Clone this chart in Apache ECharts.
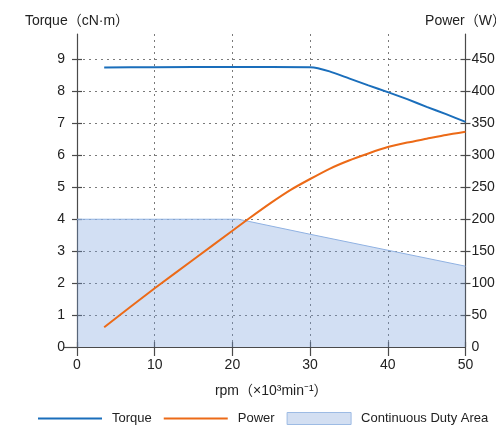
<!DOCTYPE html>
<html lang="en">
<head>
  <meta charset="UTF-8">
  <title>Torque / Power</title>
  <script src="https://cdn.jsdelivr.net/npm/echarts@6/dist/echarts.min.js"></script>
  <style>
    html, body { margin: 0; padding: 0; background: #fff; }
    #main { width: 496px; height: 426px; }
  </style>
</head>
<body>
<div id="main"></div>
<script>
  // rpm (x10^3 min^-1) vs torque (cN·m)
  var torquePts = [[3.5, 8.75], [10, 8.76], [20, 8.77], [30, 8.76], [31, 8.73], [32.5, 8.63],
    [35, 8.41], [37.5, 8.19], [40, 7.98], [42.5, 7.76], [45, 7.52], [47.5, 7.29], [50, 7.05]];
  // rpm vs power (W)
  var powerPts = [[3.5, 31], [10, 92], [15, 137], [20, 182], [22, 200], [25, 226], [27.5, 246],
    [30, 263], [32.5, 279], [35, 292], [37.5, 303], [40, 313], [42.5, 320], [45, 326], [47.5, 332], [50, 337]];
  // continuous duty area limit (cN·m)
  var dutyPts = [[0, 4], [20.8, 4], [30, 3.53], [40, 3.03], [50, 2.53]];

  var xTicks = [0, 10, 20, 30, 40, 50];
  var torqueTicks = [1, 2, 3, 4, 5, 6, 7, 8, 9];
  var torqueLabels = [0, 1, 2, 3, 4, 5, 6, 7, 8, 9];
  var powerTicks = [50, 100, 150, 200, 250, 300, 350, 400, 450];
  var powerLabels = [0, 50, 100, 150, 200, 250, 300, 350, 400, 450];

  var FONT = '"Liberation Sans", "Noto Sans CJK JP", sans-serif';
  var AXIS = '#4a4a4a';
  var TXT = '#222';
  var grid_line = { type: [2, 4], color: '#7a7a7a', width: 1 };
  var LINE_ICON = 'path://M0,0H64V2H0Z';

  var chart = echarts.init(document.getElementById('main'));
  chart.setOption({
    animation: false,
    textStyle: { fontFamily: FONT },
    grid: { left: 77, right: 30.5, top: 34, bottom: 79, containLabel: false, outerBoundsMode: 'none' },
    legend: {
      left: 38, right: 0, top: 412, padding: 0,
      itemWidth: 64, itemHeight: 12, itemGap: 12,
      textStyle: { fontSize: 13, color: TXT, fontFamily: FONT, padding: [0, 0, 0, 5] },
      data: [
        { name: 'Torque', icon: LINE_ICON },
        { name: 'Power', icon: LINE_ICON },
        { name: 'Continuous Duty Area', icon: 'rect',
          itemStyle: { color: '#d3dff2', borderColor: '#9dbbe4', borderWidth: 1 } }
      ]
    },
    xAxis: [
      {
        type: 'value', position: 'bottom', min: 0, max: 50,
        name: 'rpm（×10³min⁻¹）', nameLocation: 'middle', nameGap: 37,
        nameTextStyle: { fontSize: 14, color: TXT },
        axisLine: { onZero: false, lineStyle: { color: AXIS, width: 1.2 } },
        axisTick: { customValues: xTicks, length: 9, lineStyle: { color: AXIS, width: 1.2 } },
        axisLabel: { customValues: xTicks, fontSize: 14, color: TXT, margin: 11 },
        splitLine: { show: true, lineStyle: grid_line }
      },
      {
        type: 'value', position: 'bottom', min: 0, max: 50,
        axisLine: { show: false, onZero: false },
        axisTick: { customValues: xTicks, inside: true, length: 5, lineStyle: { color: AXIS, width: 1.2 } },
        axisLabel: { show: false },
        splitLine: { show: false }
      }
    ],
    yAxis: [
      {
        type: 'value', position: 'left', min: 0, max: 9.8,
        name: 'Torque（cN·m）', nameLocation: 'end', nameGap: 6,
        nameTextStyle: { fontSize: 14, color: TXT },
        axisLine: { show: true, onZero: false, lineStyle: { color: AXIS, width: 1.2 } },
        axisTick: { show: true, customValues: torqueTicks, length: 5, lineStyle: { color: AXIS, width: 1.2 } },
        axisLabel: { customValues: torqueLabels, fontSize: 14, color: TXT, margin: 12 },
        splitLine: { show: true, lineStyle: grid_line }
      },
      {
        type: 'value', position: 'right', min: 0, max: 490,
        name: 'Power（W）', nameLocation: 'end', nameGap: 6,
        nameTextStyle: { fontSize: 14, color: TXT },
        axisLine: { show: true, onZero: false, lineStyle: { color: AXIS, width: 1.2 } },
        axisTick: { show: true, customValues: powerTicks, length: 5, lineStyle: { color: AXIS, width: 1.2 } },
        axisLabel: { customValues: powerLabels, fontSize: 14, color: TXT, margin: 6 },
        splitLine: { show: false }
      },
      {
        type: 'value', position: 'left', min: 0, max: 9.8,
        axisLine: { show: false, onZero: false },
        axisTick: { show: true, customValues: torqueTicks, inside: true, length: 5, lineStyle: { color: AXIS, width: 1.2 } },
        axisLabel: { show: false },
        splitLine: { show: false }
      },
      {
        type: 'value', position: 'right', min: 0, max: 490,
        axisLine: { show: false, onZero: false },
        axisTick: { show: true, customValues: powerTicks, inside: true, length: 5, lineStyle: { color: AXIS, width: 1.2 } },
        axisLabel: { show: false },
        splitLine: { show: false }
      },
      {
        type: 'value', position: 'left', min: 0, max: 9.8,
        axisLine: { show: false, onZero: false },
        axisTick: { show: true, customValues: [0], length: 13, lineStyle: { color: AXIS, width: 1.2 } },
        axisLabel: { show: false },
        splitLine: { show: false }
      }
    ],
    series: [
      {
        name: 'Continuous Duty Area', type: 'line', xAxisIndex: 0, yAxisIndex: 0,
        data: dutyPts, symbol: 'none', z: 1,
        itemStyle: { color: '#d3dff2' },
        lineStyle: { color: '#8fb1e2', width: 1 },
        areaStyle: { color: 'rgba(118,158,219,0.33)', opacity: 1 }
      },
      {
        name: 'Torque', type: 'line', xAxisIndex: 0, yAxisIndex: 0,
        data: torquePts, symbol: 'none', smooth: 0.2, z: 3,
        itemStyle: { color: '#1a6ebb' },
        lineStyle: { color: '#1a6ebb', width: 2 }
      },
      {
        name: 'Power', type: 'line', xAxisIndex: 0, yAxisIndex: 1,
        data: powerPts, symbol: 'none', smooth: 0.2, z: 3,
        itemStyle: { color: '#ec6a17' },
        lineStyle: { color: '#ec6a17', width: 2 }
      }
    ]
  });
</script>
</body>
</html>
